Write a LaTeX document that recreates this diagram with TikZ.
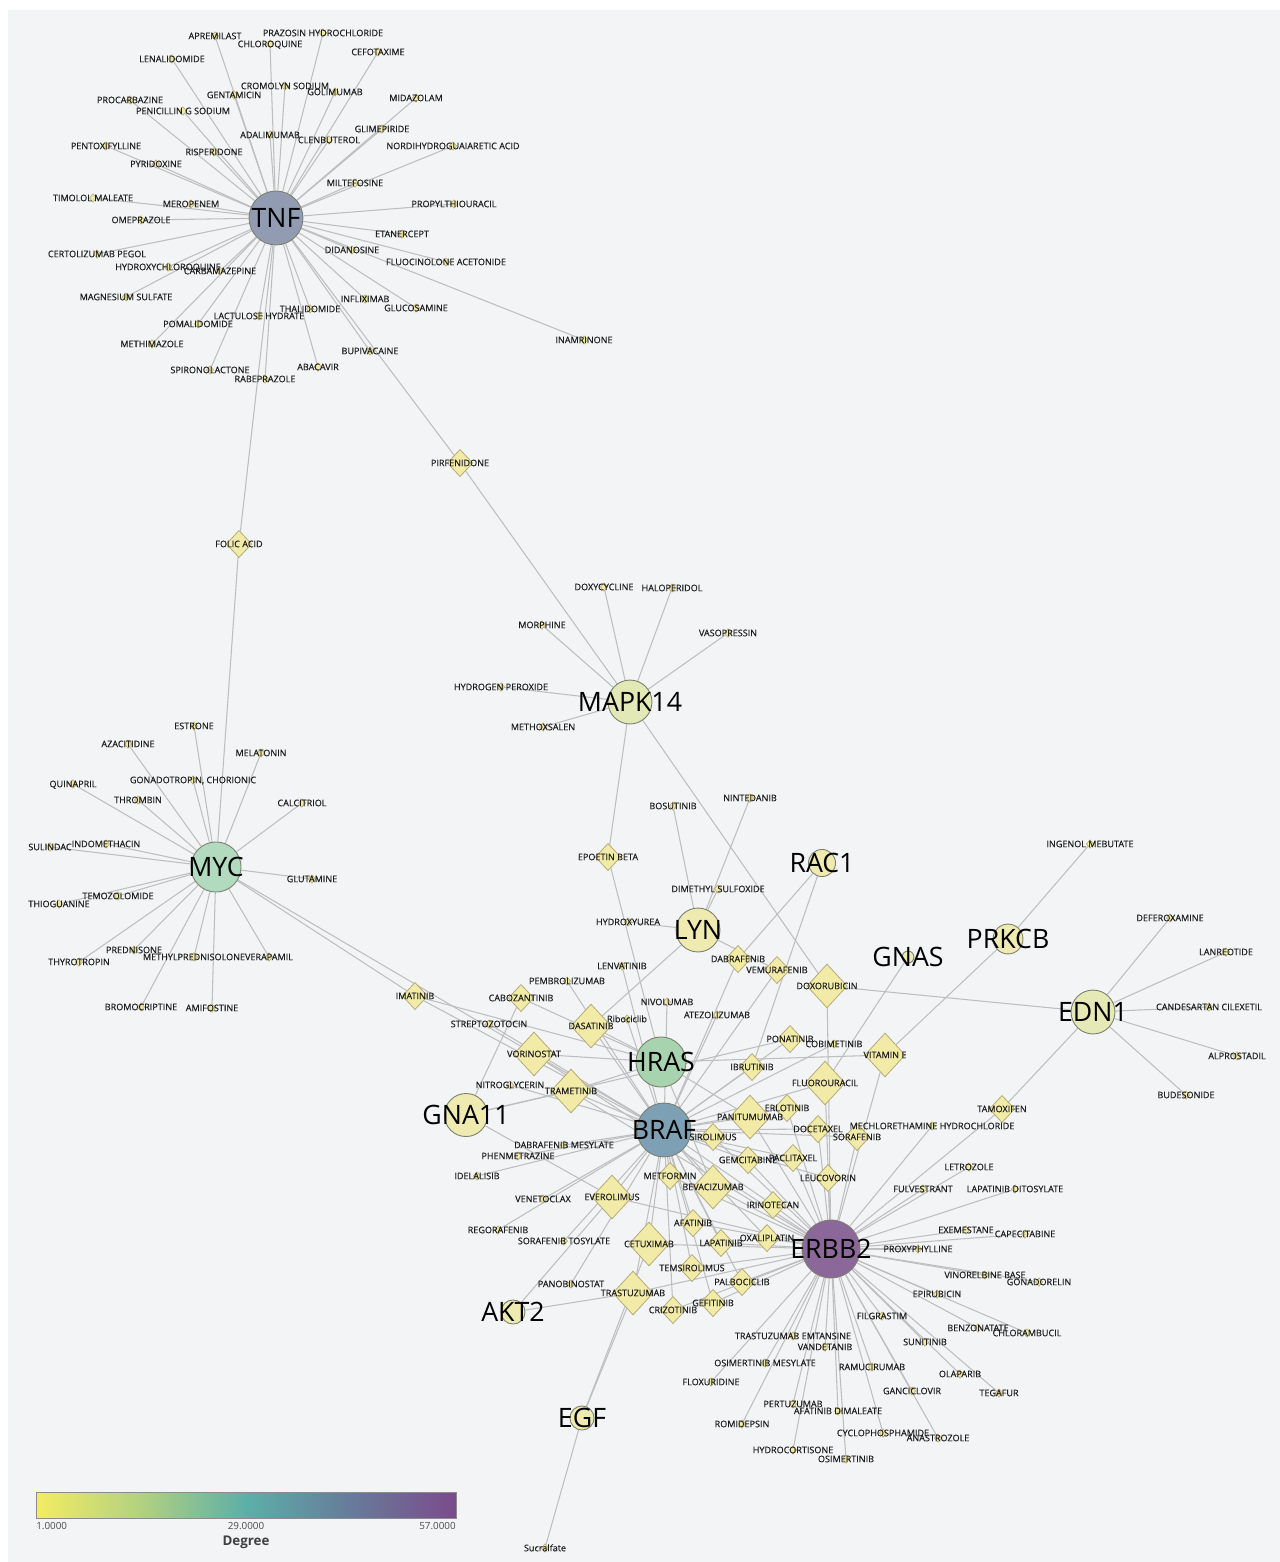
\documentclass[tikz,border=0pt]{standalone}
\usepackage{fontspec}
\setmainfont{Open Sans}
\newfontfamily\lbfont[FakeBold=0.45]{Open Sans}
\usetikzlibrary{shapes.geometric}
\definecolor{bgc}{HTML}{F3F4F6}
\definecolor{edc}{HTML}{BEBEBE}
\definecolor{dfill}{HTML}{F2EBA8}
\definecolor{dbd}{HTML}{B3AB76}
\definecolor{lbc}{HTML}{1E1E1E}
\definecolor{gbd}{HTML}{7A7F6E}
\definecolor{gTNF}{HTML}{919CB3}
\definecolor{gMAP}{HTML}{E2E8B6}
\definecolor{gMYC}{HTML}{B2DABE}
\definecolor{gY}{HTML}{EFEBB0}
\definecolor{gEDN}{HTML}{E5E9B6}
\definecolor{gHRAS}{HTML}{A8D3AF}
\definecolor{gBRAF}{HTML}{7EA0B4}
\definecolor{gERBB}{HTML}{8C689A}
\definecolor{cb1}{HTML}{F4EC62}
\definecolor{cb2}{HTML}{B2D180}
\definecolor{cb3}{HTML}{5CAFA8}
\definecolor{cb4}{HTML}{677B9A}
\definecolor{cb5}{HTML}{7B4B8B}
\pgfdeclarehorizontalshading{degbar}{100bp}{color(0bp)=(cb1); color(25bp)=(cb1); color(37.5bp)=(cb2); color(50bp)=(cb3); color(62.5bp)=(cb4); color(75bp)=(cb5); color(100bp)=(cb5)}
\pgfdeclarelayer{bg}
\pgfdeclarelayer{mid}
\pgfsetlayers{bg,mid,main}
\tikzset{
  dS/.style={diamond, draw=dbd, fill=dfill, line width=0.35pt, inner sep=0pt, minimum width=4.2pt, minimum height=4.8pt},
  dM/.style={diamond, draw=dbd, fill=dfill, line width=0.45pt, inner sep=0pt, minimum width=14.5pt, minimum height=15.5pt},
  dL/.style={diamond, draw=dbd, fill=dfill, line width=0.45pt, inner sep=0pt, minimum width=23pt, minimum height=25pt},
  lb/.style={font=\lbfont\fontsize{5.15}{6}\selectfont, text=lbc, inner sep=0pt, text height=3.65pt, text depth=0pt},
  glb/.style={font=\fontsize{15.2}{18}\selectfont, text=black, inner sep=0pt, text height=10.8pt, text depth=0pt},
  gene/.style={circle, draw=gbd, line width=0.5pt, inner sep=0pt},
  edge/.style={draw=edc, line width=0.6pt},
  cblab/.style={font=\fontsize{5.6}{7}\selectfont, text=black!70, inner sep=0pt}
}
\newcommand\DrS[3]{\begin{pgfonlayer}{mid}\node[dS] (#1) at (#2) {};\end{pgfonlayer}\node[lb] (#1l) at (#1) {#3};}
\newcommand\DrM[3]{\begin{pgfonlayer}{mid}\node[dM] (#1) at (#2) {};\end{pgfonlayer}\node[lb] (#1l) at (#1) {#3};}
\newcommand\DrL[3]{\begin{pgfonlayer}{mid}\node[dL] (#1) at (#2) {};\end{pgfonlayer}\node[lb] (#1l) at (#1) {#3};}
\newcommand\GeneN[5]{\begin{pgfonlayer}{mid}\node[gene, minimum size=#3, fill=#4] (#1) at (#2) {};\end{pgfonlayer}\node[glb] (#1l) at (#1) {#5};}
\begin{document}
\begin{tikzpicture}[x=0.02cm, y=-0.02cm]
\useasboundingbox (0,0) rectangle (1280,1562);
\begin{pgfonlayer}{bg}
\fill[white] (0,0) rectangle (1280,1562);
\fill[bgc] (8,10) rectangle (1280,1562);
\end{pgfonlayer}
% genes
\GeneN{TNF}{276,218}{30.7pt}{gTNF}{TNF}
\GeneN{MAPK}{630,702}{25pt}{gMAP}{MAPK14}
\GeneN{MYC}{216,867}{28.5pt}{gMYC}{MYC}
\GeneN{LYN}{698,930}{25pt}{gY}{LYN}
\GeneN{RAC}{822,863}{15.4pt}{gY}{RAC1}
\GeneN{PRKCB}{1008,939}{17pt}{gY}{PRKCB}
\GeneN{GNAS}{908,957}{6.8pt}{gY}{GNAS}
\GeneN{EDN}{1093,1012}{25pt}{gEDN}{EDN1}
\GeneN{HRAS}{661,1062}{28.5pt}{gHRAS}{HRAS}
\GeneN{BRAF}{664,1130}{30.7pt}{gBRAF}{BRAF}
\GeneN{ERBB}{831,1249}{33pt}{gERBB}{ERBB2}
\GeneN{GNA}{466,1115}{24.5pt}{gY}{GNA11}
\GeneN{AKT}{513,1312}{13.7pt}{gY}{AKT2}
\GeneN{EGF}{582,1418}{13.7pt}{gY}{EGF}
% TNF drugs
\DrS{apr}{215,36}{APREMILAST}
\DrS{praz}{323,33}{PRAZOSIN HYDROCHLORIDE}
\DrS{chlq}{270,44}{CHLOROQUINE}
\DrS{cefo}{378,52}{CEFOTAXIME}
\DrS{lena}{172,59}{LENALIDOMIDE}
\DrS{crom}{285,86}{CROMOLYN SODIUM}
\DrS{goli}{335,92}{GOLIMUMAB}
\DrS{gent}{234,95}{GENTAMICIN}
\DrS{mida}{416,98}{MIDAZOLAM}
\DrS{proc}{130,100}{PROCARBAZINE}
\DrS{peni}{183,111}{PENICILLIN G SODIUM}
\DrS{glim}{382,129}{GLIMEPIRIDE}
\DrS{adal}{270,135}{ADALIMUMAB}
\DrS{clen}{329,140}{CLENBUTEROL}
\DrS{nord}{453,146}{NORDIHYDROGUAIARETIC ACID}
\DrS{pent}{106,146}{PENTOXIFYLLINE}
\DrS{risp}{214,152}{RISPERIDONE}
\DrS{pyri}{156,164}{PYRIDOXINE}
\DrS{milt}{355,183}{MILTEFOSINE}
\DrS{timo}{93,198}{TIMOLOL MALEATE}
\DrS{mero}{191,204}{MEROPENEM}
\DrS{prop}{454,204}{PROPYLTHIOURACIL}
\DrS{omep}{141,220}{OMEPRAZOLE}
\DrS{etan}{402,234}{ETANERCEPT}
\DrS{dida}{352,250}{DIDANOSINE}
\DrS{cert}{97,254}{CERTOLIZUMAB PEGOL}
\DrS{fluo}{446,262}{FLUOCINOLONE ACETONIDE}
\DrS{hcq}{168,267}{HYDROXYCHLOROQUINE}
\DrS{carb}{220,271}{CARBAMAZEPINE}
\DrS{magn}{126,297}{MAGNESIUM SULFATE}
\DrS{infl}{365,299}{INFLIXIMAB}
\DrS{gluc}{416,308}{GLUCOSAMINE}
\DrS{thal}{310,309}{THALIDOMIDE}
\DrS{lact}{259,316}{LACTULOSE HYDRATE}
\DrS{poma}{198,324}{POMALIDOMIDE}
\DrS{meth}{152,344}{METHIMAZOLE}
\DrS{inam}{584,340}{INAMRINONE}
\DrS{bupi}{370,351}{BUPIVACAINE}
\DrS{abac}{318,367}{ABACAVIR}
\DrS{spir}{210,370}{SPIRONOLACTONE}
\DrS{rabe}{265,379}{RABEPRAZOLE}
\DrM{pirf}{460,463}{PIRFENIDONE}
\DrM{foli}{239,544}{FOLIC ACID}
% MAPK14 drugs
\DrS{doxy}{604,587}{DOXYCYCLINE}
\DrS{halo}{672,588}{HALOPERIDOL}
\DrS{morp}{542,625}{MORPHINE}
\DrS{vaso}{728,633}{VASOPRESSIN}
\DrS{hper}{501,687}{HYDROGEN PEROXIDE}
\DrS{mxsa}{543,727}{METHOXSALEN}
\DrM{epoe}{608,857}{EPOETIN BETA}
% LYN, PRKCB
\DrS{bosu}{673,806}{BOSUTINIB}
\DrS{nint}{750,798}{NINTEDANIB}
\DrS{dmso}{718,889}{DIMETHYL SULFOXIDE}
\DrS{hyur}{628,922}{HYDROXYUREA}
\DrS{ingm}{1090,844}{INGENOL MEBUTATE}
% EDN1
\DrS{defe}{1170,918}{DEFEROXAMINE}
\DrS{lanr}{1226,952}{LANREOTIDE}
\DrS{cand}{1209,1007}{CANDESARTAN CILEXETIL}
\DrS{alpr}{1237,1056}{ALPROSTADIL}
\DrS{bude}{1186,1095}{BUDESONIDE}
\DrM{tamo}{1002,1109}{TAMOXIFEN}
% MYC
\DrS{estr}{194,726}{ESTRONE}
\DrS{azac}{128,744}{AZACITIDINE}
\DrS{mela}{261,753}{MELATONIN}
\DrS{quin}{73,784}{QUINAPRIL}
\DrS{gona}{193,780}{GONADOTROPIN, CHORIONIC}
\DrS{thro}{138,800}{THROMBIN}
\DrS{calc}{302,803}{CALCITRIOL}
\DrS{suli}{50,847}{SULINDAC}
\DrS{indo}{106,844}{INDOMETHACIN}
\DrS{glut}{312,879}{GLUTAMINE}
\DrS{temo}{118,896}{TEMOZOLOMIDE}
\DrS{thio}{59,904}{THIOGUANINE}
\DrS{pred}{134,950}{PREDNISONE}
\DrS{mpre}{194,957}{METHYLPREDNISOLONE}
\DrS{vera}{269,957}{VERAPAMIL}
\DrS{thyr}{79,962}{THYROTROPIN}
\DrS{brom}{141,1007}{BROMOCRIPTINE}
\DrS{amif}{212,1008}{AMIFOSTINE}
\DrM{imat}{415,996}{IMATINIB}
% centre
\DrM{cabo}{521,998}{CABOZANTINIB}
\DrS{pemb}{567,981}{PEMBROLIZUMAB}
\DrS{lenv}{622,966}{LENVATINIB}
\DrS{nivo}{667,1002}{NIVOLUMAB}
\DrS{stre}{489,1024}{STREPTOZOTOCIN}
\DrL{dasa}{591,1026}{DASATINIB}
\DrS{ribo}{627,1019}{Ribociclib}
\DrL{vori}{534,1054}{VORINOSTAT}
\DrS{nitr}{510,1085}{NITROGLYCERIN}
\DrL{tram}{571,1091}{TRAMETINIB}
\DrM{dabr}{738,959}{DABRAFENIB}
\DrM{vemu}{777,970}{VEMURAFENIB}
\DrL{doxo}{827,986}{DOXORUBICIN}
\DrS{atez}{717,1015}{ATEZOLIZUMAB}
\DrM{pona}{790,1039}{PONATINIB}
\DrS{cobi}{834,1044}{COBIMETINIB}
\DrL{vite}{885,1055}{VITAMIN E}
\DrM{ibru}{752,1067}{IBRUTINIB}
\DrL{fluu}{825,1083}{FLUOROURACIL}
\DrM{erlo}{787,1108}{ERLOTINIB}
\DrL{pani}{750,1117}{PANITUMUMAB}
\DrM{doce}{818,1129}{DOCETAXEL}
\DrS{mech}{932,1126}{MECHLORETHAMINE HYDROCHLORIDE}
\DrM{sora}{857,1137}{SORAFENIB}
\DrM{siro}{713,1137}{SIROLIMUS}
\DrM{gemc}{748,1160}{GEMCITABINE}
\DrM{pacl}{793,1158}{PACLITAXEL}
\DrM{leuc}{828,1178}{LEUCOVORIN}
\DrM{metf}{670,1176}{METFORMIN}
\DrL{beva}{713,1187}{BEVACIZUMAB}
\DrL{ever}{612,1197}{EVEROLIMUS}
\DrM{irin}{773,1205}{IRINOTECAN}
\DrM{afat}{693,1223}{AFATINIB}
\DrL{cetu}{649,1244}{CETUXIMAB}
\DrM{lapa}{721,1243}{LAPATINIB}
\DrM{oxal}{767,1238}{OXALIPLATIN}
\DrM{tems}{692,1268}{TEMSIROLIMUS}
\DrM{palb}{742,1282}{PALBOCICLIB}
\DrL{tras}{633,1293}{TRASTUZUMAB}
\DrM{criz}{673,1310}{CRIZOTINIB}
\DrM{gefi}{713,1303}{GEFITINIB}
% lower left
\DrS{dmes}{564,1145}{DABRAFENIB MESYLATE}
\DrS{phen}{518,1156}{PHENMETRAZINE}
\DrS{idel}{477,1176}{IDELALISIB}
\DrS{vene}{543,1199}{VENETOCLAX}
\DrS{rego}{498,1230}{REGORAFENIB}
\DrS{stos}{564,1241}{SORAFENIB TOSYLATE}
\DrS{pano}{571,1284}{PANOBINOSTAT}
\DrS{sucr}{545,1548}{Sucralfate}
% ERBB2 drugs
\DrS{letr}{969,1167}{LETROZOLE}
\DrS{fulv}{923,1189}{FULVESTRANT}
\DrS{ladi}{1015,1189}{LAPATINIB DITOSYLATE}
\DrS{exem}{966,1230}{EXEMESTANE}
\DrS{cape}{1025,1234}{CAPECITABINE}
\DrS{prox}{918,1249}{PROXYPHYLLINE}
\DrS{vino}{985,1275}{VINORELBINE BASE}
\DrS{gnrh}{1039,1282}{GONADORELIN}
\DrS{epir}{937,1294}{EPIRUBICIN}
\DrS{filg}{882,1316}{FILGRASTIM}
\DrS{benz}{978,1328}{BENZONATATE}
\DrS{chlo}{1027,1333}{CHLORAMBUCIL}
\DrS{tdm}{793,1336}{TRASTUZUMAB EMTANSINE}
\DrS{suni}{925,1342}{SUNITINIB}
\DrS{vand}{825,1347}{VANDETANIB}
\DrS{osim}{765,1363}{OSIMERTINIB MESYLATE}
\DrS{ramu}{872,1367}{RAMUCIRUMAB}
\DrS{olap}{960,1374}{OLAPARIB}
\DrS{flox}{711,1382}{FLOXURIDINE}
\DrS{ganc}{912,1391}{GANCICLOVIR}
\DrS{tega}{999,1393}{TEGAFUR}
\DrS{pert}{793,1404}{PERTUZUMAB}
\DrS{afdm}{838,1411}{AFATINIB DIMALEATE}
\DrS{romi}{742,1424}{ROMIDEPSIN}
\DrS{cycl}{883,1433}{CYCLOPHOSPHAMIDE}
\DrS{anas}{938,1438}{ANASTROZOLE}
\DrS{hydc}{793,1450}{HYDROCORTISONE}
\DrS{osmt}{846,1459}{OSIMERTINIB}
% edges
\begin{pgfonlayer}{bg}
\foreach \b in {apr,praz,chlq,cefo,lena,crom,goli,gent,mida,proc,peni,glim,adal,clen,nord,pent,risp,pyri,milt,timo,mero,prop,omep,etan,dida,cert,fluo,hcq,carb,magn,infl,gluc,thal,lact,poma,meth,inam,bupi,abac,spir,rabe,pirf,foli}
  \draw[edge] (TNF) -- (\b);
\foreach \b in {doxy,halo,morp,vaso,hper,mxsa,pirf,epoe,doxo}
  \draw[edge] (MAPK) -- (\b);
\foreach \b in {estr,azac,mela,quin,gona,thro,calc,suli,indo,glut,temo,thio,pred,mpre,vera,thyr,brom,amif,foli,imat,vori}
  \draw[edge] (MYC) -- (\b);
\foreach \b in {bosu,nint,dmso,hyur,dasa,vemu}
  \draw[edge] (LYN) -- (\b);
\foreach \b in {dabr,ibru}
  \draw[edge] (RAC) -- (\b);
\foreach \b in {ingm,vite}
  \draw[edge] (PRKCB) -- (\b);
\draw[edge] (GNAS) -- (fluu);
\foreach \b in {defe,lanr,cand,alpr,bude,doxo,tamo}
  \draw[edge] (EDN) -- (\b);
\foreach \b in {cabo,tram,ever,pona}
  \draw[edge] (GNA) -- (\b);
\foreach \b in {ever,tras}
  \draw[edge] (AKT) -- (\b);
\foreach \b in {cetu,tras,sucr}
  \draw[edge] (EGF) -- (\b);
\foreach \b in {vori,dasa,tram,epoe,vite,pani,beva,cabo,imat}
  \draw[edge] (HRAS) -- (\b);
\foreach \b in {dabr,vemu,pona,ibru,erlo,doce,sora,siro,gemc,pacl,leuc,metf,irin,afat,lapa,oxal,tems,palb,criz,gefi,cobi,fluu,vori,dasa,tram,pani,beva,ever,cetu,tras,imat,dmes,phen,idel,vene,rego,stos,pano,nivo,atez,pemb,ribo,lenv,stre,nitr}
  \draw[edge] (BRAF) -- (\b);
\foreach \b in {letr,fulv,ladi,exem,cape,prox,vino,gnrh,epir,filg,benz,chlo,tdm,suni,vand,osim,ramu,olap,flox,ganc,tega,pert,afdm,romi,cycl,anas,hydc,osmt,mech,tamo,erlo,doce,sora,siro,gemc,pacl,leuc,metf,irin,afat,lapa,oxal,tems,palb,criz,gefi,doxo,vite,fluu,pani,beva,ever,cetu,tras,vori,tram}
  \draw[edge] (ERBB) -- (\b);
\end{pgfonlayer}
% colour bar
\shade[shading=degbar] (36,1492) rectangle (456,1518);
\draw[black!45, line width=0.5pt] (36,1492) rectangle (456,1518);
\node[cblab, anchor=north west] (cbmin) at (36,1522) {1.0000};
\node[cblab, anchor=north] (cbmid) at (246,1522) {29.0000};
\node[cblab, anchor=north east] (cbmax) at (456,1522) {57.0000};
\node[font=\fontsize{7.6}{9}\selectfont\bfseries, text=black!75, inner sep=0pt] (cbtitle) at (246,1542) {Degree};
\end{tikzpicture}
\end{document}
